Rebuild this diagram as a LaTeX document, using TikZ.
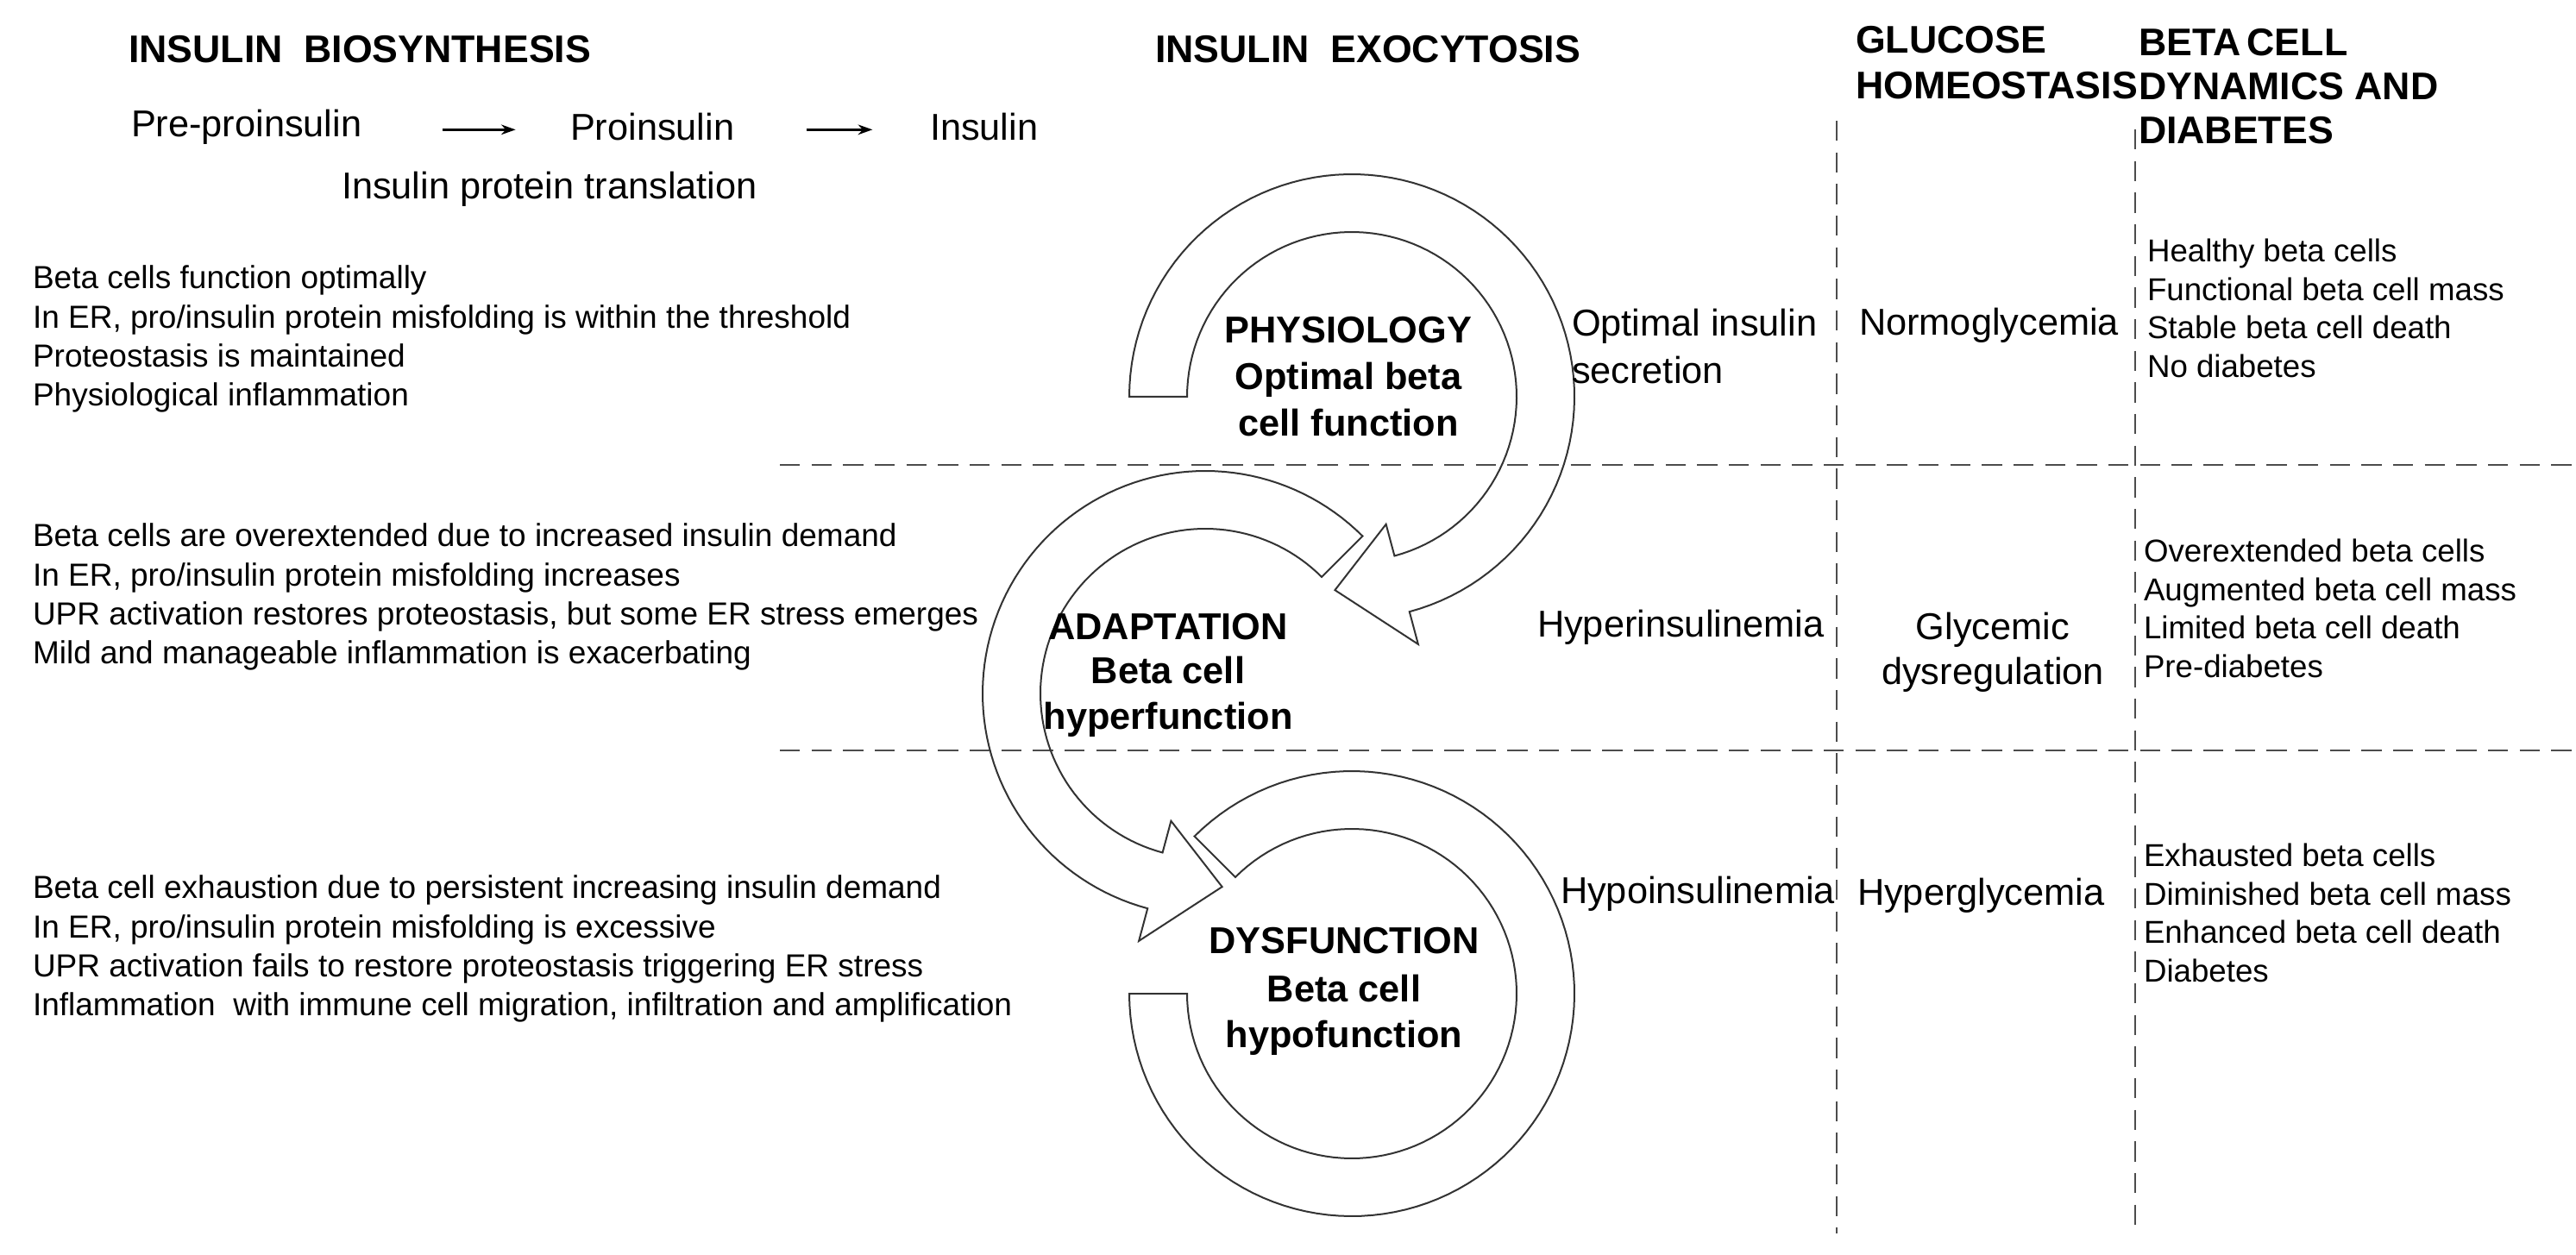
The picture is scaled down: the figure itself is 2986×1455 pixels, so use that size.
\documentclass[tikz,border=0pt]{standalone}
\usepackage{fontspec}
\setmainfont{Liberation Sans}
\usetikzlibrary{arrows.meta}
\begin{document}
\begin{tikzpicture}[x=0.3pt,y=-0.3pt,
  every node/.style={inner sep=0pt,outer sep=0pt},
  txt/.style={font=\fontsize{11.1}{13.6}\selectfont,align=left,anchor=north west},
  rtxt/.style={font=\fontsize{11}{13.4}\selectfont,align=left,anchor=north west},
  lbl/.style={font=\fontsize{13}{16}\selectfont,anchor=west},
  head/.style={font=\fontsize{13.4}{15.5}\selectfont\bfseries,align=left,anchor=west},
  ctr/.style={font=\fontsize{13}{16}\selectfont\bfseries,align=center},
  ring/.style={draw=black!80,line width=0.6pt,line join=miter},
  dsh/.style={draw=black!70,line width=0.6pt,dash pattern=on 7pt off 4pt}]
\useasboundingbox (0,0) rectangle (2986,1455);
% dashed grid
\draw[dsh] (904,539) -- (2986,539);
\draw[dsh] (904,870) -- (2986,870);
\draw[dsh] (2129,140) -- (2129,1430);
\draw[dsh] (2475,150) -- (2475,1430);
% headers
\node[head] (h1) at (149,57) {INSULIN\ \ BIOSYNTHESIS};
\node[head] (h2) at (1339,57) {INSULIN\ \ EXOCYTOSIS};
\node[head,font=\fontsize{13.4}{16}\selectfont\bfseries,anchor=north west] (h3) at (2151,30) {GLUCOSE\\HOMEOSTASIS};
\node[head,font=\fontsize{13.4}{15.4}\selectfont\bfseries,anchor=north west] (h4) at (2479,33) {BETA\,CELL\\DYNAMICS AND\\DIABETES};
% biosynthesis
\node[lbl] (pre) at (152,147) {Pre-proinsulin};
\node[lbl] (pro) at (661,147) {Proinsulin};
\node[lbl] (ins) at (1078,147) {Insulin};
\node[lbl] (tr) at (396,219) {Insulin protein translation};
\draw[-{Stealth[length=5pt,width=3.5pt]},line width=0.8pt] ([xshift=28pt,yshift=-1pt]pre.east) -- ([xshift=-19pt,yshift=-1pt]pro.west);
\draw[-{Stealth[length=5pt,width=3.5pt]},line width=0.8pt] ([xshift=25pt,yshift=-1pt]pro.east) -- ([xshift=-20pt,yshift=-1pt]ins.west);
% left blocks
\node[txt] (b1) at (38,308) {Beta cells function optimally\\In ER, pro/insulin protein misfolding is within the threshold\\Proteostasis is maintained\\Physiological inflammation};
\node[txt] (b2) at (38,607) {Beta cells are overextended due to increased insulin demand\\In ER, pro/insulin protein misfolding increases\\UPR activation restores proteostasis, but some ER stress emerges\\Mild and manageable inflammation is exacerbating};
\node[txt] (b3) at (38,1015) {Beta cell exhaustion due to persistent increasing insulin demand\\In ER, pro/insulin protein misfolding is excessive\\UPR activation fails to restore proteostasis triggering ER stress\\Inflammation\ \ with immune cell migration, infiltration and amplification};
% rings
\draw[ring] plot[domain=180:-75,samples=90] ({1567+258*cos(\x)},{460-258*sin(\x)})
  -- ({1567+297*cos(-75)},{460-297*sin(-75)}) -- ({1567+225*cos(-95)},{460-225*sin(-95)})
  -- ({1567+153*cos(-75)},{460-153*sin(-75)})
  -- plot[domain=-75:180,samples=90] ({1567+191*cos(\x)},{460-191*sin(\x)}) -- cycle;
\draw[ring] plot[domain=45:255,samples=90] ({1397+258*cos(\x)},{804-258*sin(\x)})
  -- ({1397+297*cos(255)},{804-297*sin(255)}) -- ({1397+225*cos(275)},{804-225*sin(275)})
  -- ({1397+153*cos(255)},{804-153*sin(255)})
  -- plot[domain=255:45,samples=90] ({1397+191*cos(\x)},{804-191*sin(\x)}) -- cycle;
\draw[ring] plot[domain=135:-180,samples=110] ({1567+258*cos(\x)},{1152-258*sin(\x)})
  -- plot[domain=-180:135,samples=110] ({1567+191*cos(\x)},{1152-191*sin(\x)}) -- cycle;
% centre labels
\node[ctr] (p1) at (1563,383) {PHYSIOLOGY};
\node[ctr] (p2) at (1563,463) {Optimal beta\\cell function};
\node[ctr] (a1) at (1354,727) {ADAPTATION};
\node[ctr] (a2) at (1354,808) {Beta cell\\hyperfunction};
\node[ctr] (d1) at (1558,1091) {DYSFUNCTION};
\node[ctr] (d2) at (1558,1177) {Beta cell\\hypofunction};
% exocytosis
\node[lbl,align=left,font=\fontsize{13}{16.5}\selectfont] (e1) at (1822,402) {Optimal insulin\\secretion};
\node[lbl] (e2) at (1782,727) {Hyperinsulinemia};
\node[lbl] (e3) at (1809,1036) {Hypoinsulinemia};
% glucose
\node[lbl] (g1) at (2155,377) {Normoglycemia};
\node[font=\fontsize{13}{15.5}\selectfont,align=center] (g2) at (2310,756) {Glycemic\\dysregulation};
\node[lbl] (g3) at (2153,1038) {Hyperglycemia};
% right column
\node[rtxt] (r1) at (2489,277) {Healthy beta cells\\Functional beta cell mass\\Stable beta cell death\\No diabetes};
\node[rtxt] (r2) at (2485,625) {Overextended\ beta cells\\Augmented beta cell mass\\Limited beta cell death\\Pre-diabetes};
\node[rtxt] (r3) at (2485,978) {Exhausted beta cells\\Diminished beta cell mass\\Enhanced beta cell death\\Diabetes};
\end{tikzpicture}
\end{document}
